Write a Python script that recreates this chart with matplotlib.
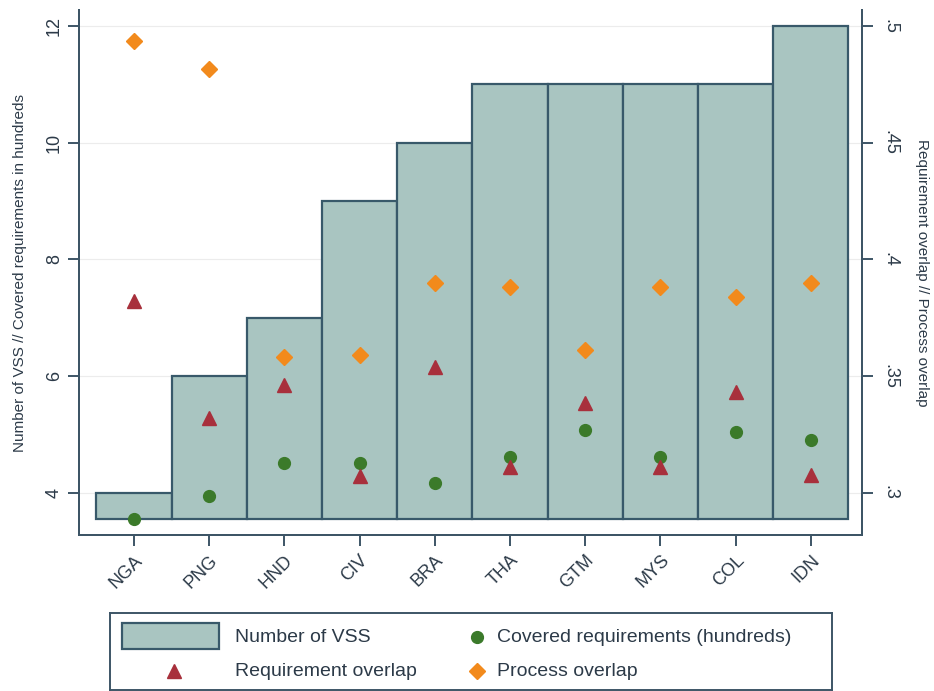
import numpy as np
import matplotlib.pyplot as plt
from matplotlib.patches import Rectangle

plt.rcParams['font.family'] = ['Liberation Sans', 'DejaVu Sans']

# country codes, ordered by number of VSS
countries = ['NGA', 'PNG', 'HND', 'CIV', 'BRA', 'THA', 'GTM', 'MYS', 'COL', 'IDN']
n_vss = [4, 6, 7, 9, 10, 11, 11, 11, 11, 12]
covered_req = [3.56, 3.95, 4.52, 4.51, 4.17, 4.62, 5.08, 4.62, 5.05, 4.91]  # hundreds
req_overlap = [0.382, 0.332, 0.346, 0.307, 0.354, 0.311, 0.3385, 0.311, 0.343, 0.3075]
proc_overlap = [0.4936, 0.4816, 0.358, 0.359, 0.390, 0.388, 0.361, 0.388, 0.384, 0.390]

bar_fill = '#a9c5c1'
bar_edge = '#38596a'
axis_col = '#3d5566'
txt_col = '#2c3a48'
green = '#3b7a2a'
red = '#a8303c'
orange = '#f28a1c'

x = np.arange(len(countries))
base = min(covered_req)

fig = plt.figure(figsize=(9.34, 6.91), dpi=100)
ax = fig.add_axes([79 / 934, 1 - 535 / 691, 783 / 934, 525 / 691])
ax2 = ax.twinx()

ax.set_axisbelow(True)
ax.yaxis.grid(True, color='#ececec', lw=0.8)
ax.bar(x, np.array(n_vss) - base, bottom=base, width=1.0,
       color=bar_fill, edgecolor=bar_edge, lw=1.6, zorder=2)
ax.plot(x, covered_req, 'o', ms=8.5, color=green, zorder=4)

ax2.plot(x, req_overlap, '^', ms=9.5, color=red, zorder=4)
ax2.plot(x, proc_overlap, 'D', ms=8, color=orange, zorder=4)

ax.set_xlim(-0.73, 9.68)
ax.set_ylim(3.28, 12.27)
ax2.set_ylim(0.2819, 0.5069)

ax.set_yticks([4, 6, 8, 10, 12])
ax2.set_yticks([0.3, 0.35, 0.4, 0.45, 0.5])
ax2.set_yticklabels(['.3', '.35', '.4', '.45', '.5'])
ax.set_xticks(x)
ax.set_xticklabels(countries, rotation=45, ha='right', rotation_mode='anchor')

for a in (ax, ax2):
    a.spines['top'].set_visible(False)
    for s in ('left', 'right', 'bottom'):
        a.spines[s].set_color(axis_col)
        a.spines[s].set_linewidth(1.4)
    a.tick_params(colors=axis_col, labelcolor=txt_col, labelsize=13,
                  length=8, width=1.4)
ax.tick_params(axis='y', labelrotation=90)
for lbl in ax.get_yticklabels():
    lbl.set_va('center')
ax2.tick_params(axis='y', labelrotation=-90, pad=6)
for lbl in ax2.get_yticklabels():
    lbl.set_va('center')
ax.tick_params(axis='x', pad=4)

ax.set_ylabel('Number of VSS // Covered requirements in hundreds',
              fontsize=11, color=txt_col, labelpad=14)
ax2.set_ylabel('Requirement overlap // Process overlap', fontsize=11,
               color=txt_col, rotation=-90, labelpad=22)

# legend box below the plot
lax = fig.add_axes([110 / 934, 1 - 690 / 691, 722 / 934, 77 / 691])
lax.set_xlim(0, 722)
lax.set_ylim(77, 0)
lax.set_xticks([])
lax.set_yticks([])
for s in lax.spines.values():
    s.set_color(axis_col)
    s.set_linewidth(1.4)
lax.add_patch(Rectangle((12, 10), 97, 26, facecolor=bar_fill,
                        edgecolor=bar_edge, lw=1.6))
lax.plot([64], [58], '^', ms=9.5, color=red)
lax.plot([367], [24], 'o', ms=8.5, color=green)
lax.plot([367], [58], 'D', ms=8, color=orange)
lkw = dict(fontsize=14, color=txt_col, va='center', ha='left')
lax.text(125, 24, 'Number of VSS', **lkw)
lax.text(125, 58, 'Requirement overlap', **lkw)
lax.text(387, 24, 'Covered requirements (hundreds)', **lkw)
lax.text(387, 58, 'Process overlap', **lkw)

fig.savefig('out.png', dpi=100, facecolor='white')
